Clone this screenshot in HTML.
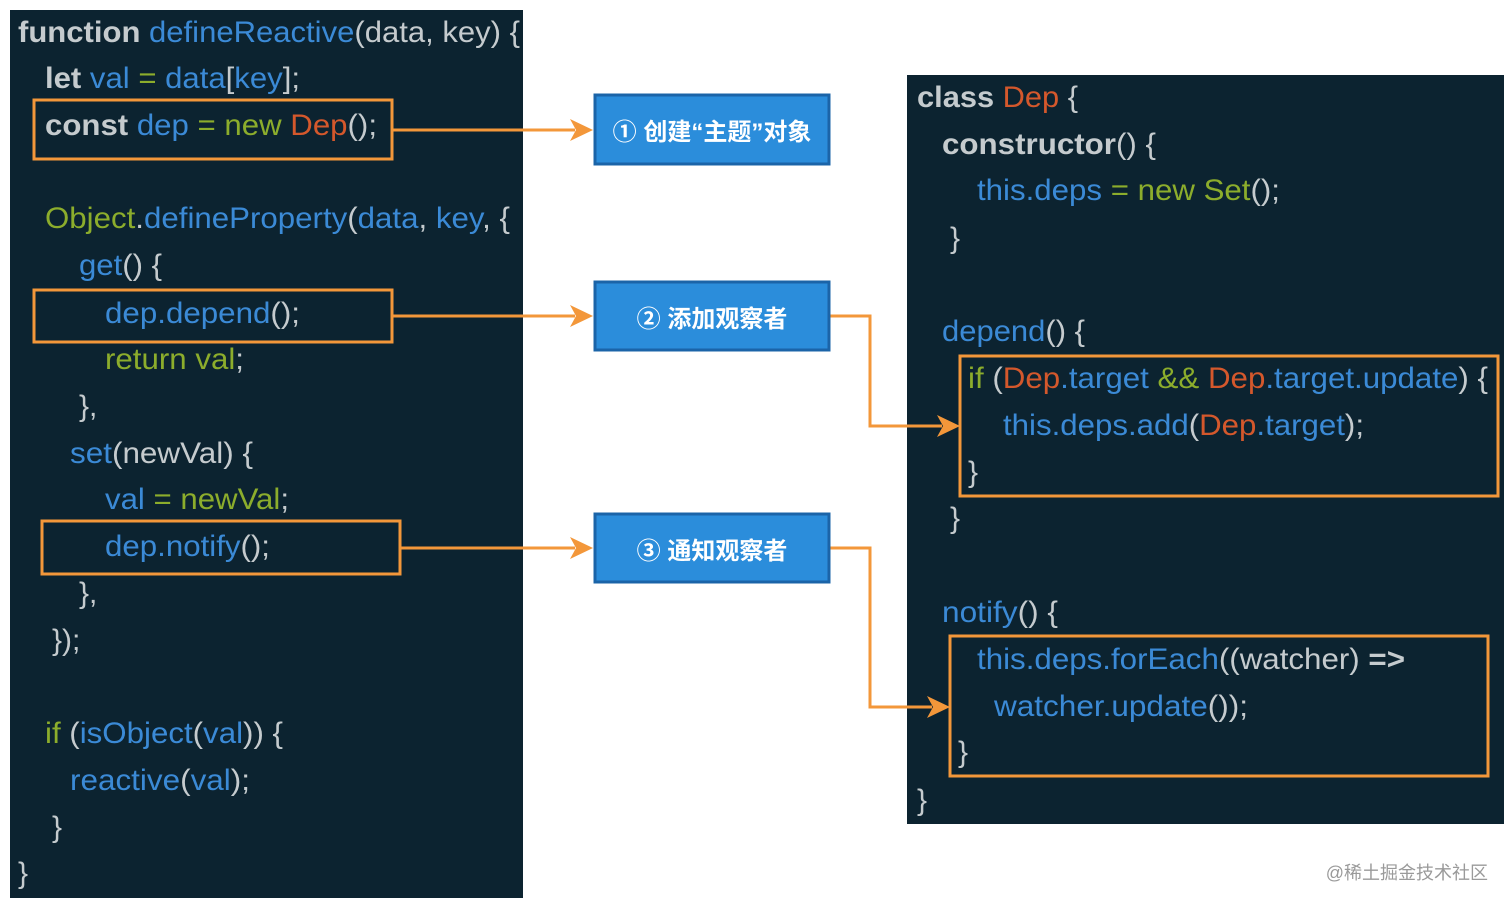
<!DOCTYPE html>
<html><head><meta charset="utf-8"><style>
html,body{margin:0;padding:0;background:#fff;}
svg{display:block}
text{font-family:"Liberation Sans","Noto Sans CJK SC",sans-serif;font-size:30px;}
.g{fill:#c5cbce}.b{fill:#3b8ad6}.n{fill:#8cad2c}.r{fill:#d4582c}.k{fill:#c5cbce;font-weight:bold}
</style></head><body>
<svg width="1512" height="907" viewBox="0 0 1512 907" xmlns="http://www.w3.org/2000/svg">
<rect x="10" y="10" width="513" height="888" fill="#0c2330"/>
<rect x="907" y="75" width="597" height="749" fill="#0c2330"/>

<text x="18" y="42" textLength="502" lengthAdjust="spacingAndGlyphs"><tspan class="k">function</tspan><tspan class="b"> defineReactive</tspan><tspan class="g">(data, key) {</tspan></text>
<text x="45" y="88" textLength="255" lengthAdjust="spacingAndGlyphs"><tspan class="k">let</tspan><tspan class="b"> val </tspan><tspan class="n">=</tspan><tspan class="b"> data</tspan><tspan class="g">[</tspan><tspan class="b">key</tspan><tspan class="g">];</tspan></text>
<text x="45" y="135" textLength="332" lengthAdjust="spacingAndGlyphs"><tspan class="k">const</tspan><tspan class="b"> dep </tspan><tspan class="n">= new </tspan><tspan class="r">Dep</tspan><tspan class="g">();</tspan></text>
<text x="45" y="228" textLength="465" lengthAdjust="spacingAndGlyphs"><tspan class="n">Object</tspan><tspan class="g">.</tspan><tspan class="b">defineProperty</tspan><tspan class="g">(</tspan><tspan class="b">data</tspan><tspan class="g">, </tspan><tspan class="b">key</tspan><tspan class="g">, {</tspan></text>
<text x="79" y="275" textLength="83" lengthAdjust="spacingAndGlyphs"><tspan class="b">get</tspan><tspan class="g">() {</tspan></text>
<text x="105" y="323" textLength="195" lengthAdjust="spacingAndGlyphs"><tspan class="b">dep.depend</tspan><tspan class="g">();</tspan></text>
<text x="105" y="369" textLength="139" lengthAdjust="spacingAndGlyphs"><tspan class="n">return val</tspan><tspan class="g">;</tspan></text>
<text x="79" y="416" class="g">},</text>
<text x="70" y="463" textLength="183" lengthAdjust="spacingAndGlyphs"><tspan class="b">set</tspan><tspan class="g">(newVal) {</tspan></text>
<text x="105" y="509" textLength="184" lengthAdjust="spacingAndGlyphs"><tspan class="b">val </tspan><tspan class="n">= newVal</tspan><tspan class="g">;</tspan></text>
<text x="105" y="556" textLength="165" lengthAdjust="spacingAndGlyphs"><tspan class="b">dep.notify</tspan><tspan class="g">();</tspan></text>
<text x="79" y="603" class="g">},</text>
<text x="52" y="650" class="g">});</text>
<text x="45" y="743" textLength="238" lengthAdjust="spacingAndGlyphs"><tspan class="n">if</tspan><tspan class="g"> (</tspan><tspan class="b">isObject</tspan><tspan class="g">(</tspan><tspan class="b">val</tspan><tspan class="g">)) {</tspan></text>
<text x="70" y="790" textLength="180" lengthAdjust="spacingAndGlyphs"><tspan class="b">reactive</tspan><tspan class="g">(</tspan><tspan class="b">val</tspan><tspan class="g">);</tspan></text>
<text x="52" y="837" class="g">}</text>
<text x="18" y="883" class="g">}</text>

<text x="917" y="107" textLength="161" lengthAdjust="spacingAndGlyphs"><tspan class="k">class</tspan><tspan class="r"> Dep</tspan><tspan class="g"> {</tspan></text>
<text x="942" y="154" textLength="214" lengthAdjust="spacingAndGlyphs"><tspan class="k">constructor</tspan><tspan class="g">() {</tspan></text>
<text x="977" y="200" textLength="303" lengthAdjust="spacingAndGlyphs"><tspan class="b">this.deps </tspan><tspan class="n">= new Set</tspan><tspan class="g">();</tspan></text>
<text x="950" y="248" class="g">}</text>
<text x="942" y="341" textLength="143" lengthAdjust="spacingAndGlyphs"><tspan class="b">depend</tspan><tspan class="g">() {</tspan></text>
<text x="968" y="388" textLength="520" lengthAdjust="spacingAndGlyphs"><tspan class="n">if</tspan><tspan class="g"> (</tspan><tspan class="r">Dep</tspan><tspan class="b">.target </tspan><tspan class="n">&amp;&amp; </tspan><tspan class="r">Dep</tspan><tspan class="b">.target.update</tspan><tspan class="g">) {</tspan></text>
<text x="1003" y="435" textLength="361" lengthAdjust="spacingAndGlyphs"><tspan class="b">this.deps.add</tspan><tspan class="g">(</tspan><tspan class="r">Dep</tspan><tspan class="b">.target</tspan><tspan class="g">);</tspan></text>
<text x="968" y="482" class="g">}</text>
<text x="950" y="528" class="g">}</text>
<text x="942" y="622" textLength="116" lengthAdjust="spacingAndGlyphs"><tspan class="b">notify</tspan><tspan class="g">() {</tspan></text>
<text x="977" y="669" textLength="428" lengthAdjust="spacingAndGlyphs"><tspan class="b">this.deps.forEach</tspan><tspan class="g">((watcher) </tspan><tspan class="k">=&gt;</tspan></text>
<text x="994" y="716" textLength="254" lengthAdjust="spacingAndGlyphs"><tspan class="b">watcher.update</tspan><tspan class="g">());</tspan></text>
<text x="958" y="762" class="g">}</text>
<text x="917" y="810" class="g">}</text>

<g fill="none" stroke="#f3973a" stroke-width="3">
<rect x="34" y="100" width="358" height="59"/>
<rect x="34" y="290" width="358" height="52"/>
<rect x="42" y="521" width="358" height="53"/>
<rect x="960" y="356" width="538" height="140"/>
<rect x="950" y="636" width="538" height="140"/>
<polyline points="392,130 575,130"/>
<polyline points="392,316 575,316"/>
<polyline points="400,548 575,548"/>
<polyline points="830,316 870,316 870,426 942,426"/>
<polyline points="830,548 870,548 870,707 932,707"/>
</g>
<g fill="#f3973a">
<polygon points="593,130 570,119 576,130 570,141"/>
<polygon points="593,316 570,305 576,316 570,327"/>
<polygon points="593,548 570,537 576,548 570,559"/>
<polygon points="960,426 937,415 943,426 937,437"/>
<polygon points="950,707 927,696 933,707 927,718"/>
</g>

<g fill="#2b8ddb" stroke="#1b64a8" stroke-width="3">
<rect x="595" y="95" width="234" height="69"/>
<rect x="595" y="282" width="234" height="68"/>
<rect x="595" y="514" width="234" height="68"/>
</g>
<g fill="#fff" font-weight="bold" text-anchor="middle">
<text x="712" y="140" style="font-size:24px">① 创建“主题”对象</text>
<text x="712" y="327" style="font-size:24px">② 添加观察者</text>
<text x="712" y="559" style="font-size:24px">③ 通知观察者</text>
</g>
<text x="1488" y="879" text-anchor="end" fill="#9a9a9a" style="font-size:18px">@稀土掘金技术社区</text>
</svg>
</body></html>
